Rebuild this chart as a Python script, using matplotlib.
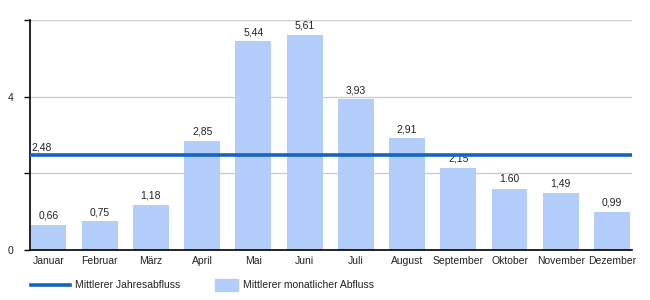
import matplotlib.pyplot as plt
from matplotlib.lines import Line2D
from matplotlib.patches import Rectangle

plt.rcParams['font.family'] = ['Liberation Sans', 'DejaVu Sans']

months = ['Januar', 'Februar', 'März', 'April', 'Mai', 'Juni', 'Juli',
          'August', 'September', 'Oktober', 'November', 'Dezember']
monthly = [0.66, 0.75, 1.18, 2.85, 5.44, 5.61, 3.93, 2.91, 2.15, 1.60, 1.49, 0.99]
value_labels = ['0,66', '0,75', '1,18', '2,85', '5,44', '5,61', '3,93',
                '2,91', '2,15', '1.60', '1,49', '0,99']
annual = 2.48
annual_label = '2,48'
yticks = [0, 2, 4, 6]
ytick_labels = ['0', '', '4', '']

bar_color = '#b3cdfb'
line_color = '#1565c0'

fig = plt.figure(figsize=(6.5, 3), dpi=100)
ax = fig.add_axes([30 / 650, 50 / 300, 602 / 650, 230 / 300])

x = range(len(months))
ax.bar(x, monthly, width=0.7, color=bar_color, zorder=2)
for xi, v, lab in zip(x, monthly, value_labels):
    ax.annotate(lab, (xi, v), xytext=(0, 3), textcoords='offset points',
                ha='center', va='bottom', fontsize=7.5, color='#222222')

ax.axhline(annual, color=line_color, lw=2.6, zorder=3)
ax.annotate(annual_label, (0, annual), xycoords=('axes fraction', 'data'),
            xytext=(1, 2), textcoords='offset points',
            ha='left', va='bottom', fontsize=7.5, color='#222222')

ax.set_xlim(-0.36, 11.39)
ax.set_ylim(0, 6)
ax.set_yticks(yticks)
ax.set_yticklabels(ytick_labels)
ax.set_xticks(list(x))
ax.set_xticklabels(months)
ax.tick_params(axis='x', length=0, pad=4, labelsize=7.5, colors='#222222')
ax.tick_params(axis='y', length=4, width=1, pad=8, labelsize=7.5, colors='#222222')
ax.tick_params(axis='y', color='black')
ax.yaxis.grid(True, color='#cccccc', lw=1, zorder=0)
ax.set_axisbelow(True)
for s in ['top', 'right']:
    ax.spines[s].set_visible(False)
ax.spines['left'].set_linewidth(1.2)
ax.spines['bottom'].set_linewidth(1.2)

# legend, drawn by hand below the axes
fig.add_artist(Line2D([31 / 650, 70 / 650], [1 - 285 / 300] * 2,
                      color=line_color, lw=2.6))
fig.text(75 / 650, 1 - 285 / 300, 'Mittlerer Jahresabfluss', fontsize=7.5,
         va='center', ha='left', color='#222222')
fig.add_artist(Rectangle((215 / 650, 1 - 291 / 300), 23 / 650, 12 / 300,
                         color=bar_color, transform=fig.transFigure))
fig.text(243 / 650, 1 - 285 / 300, 'Mittlerer monatlicher Abfluss', fontsize=7.5,
         va='center', ha='left', color='#222222')

fig.savefig('out.png', dpi=100)
